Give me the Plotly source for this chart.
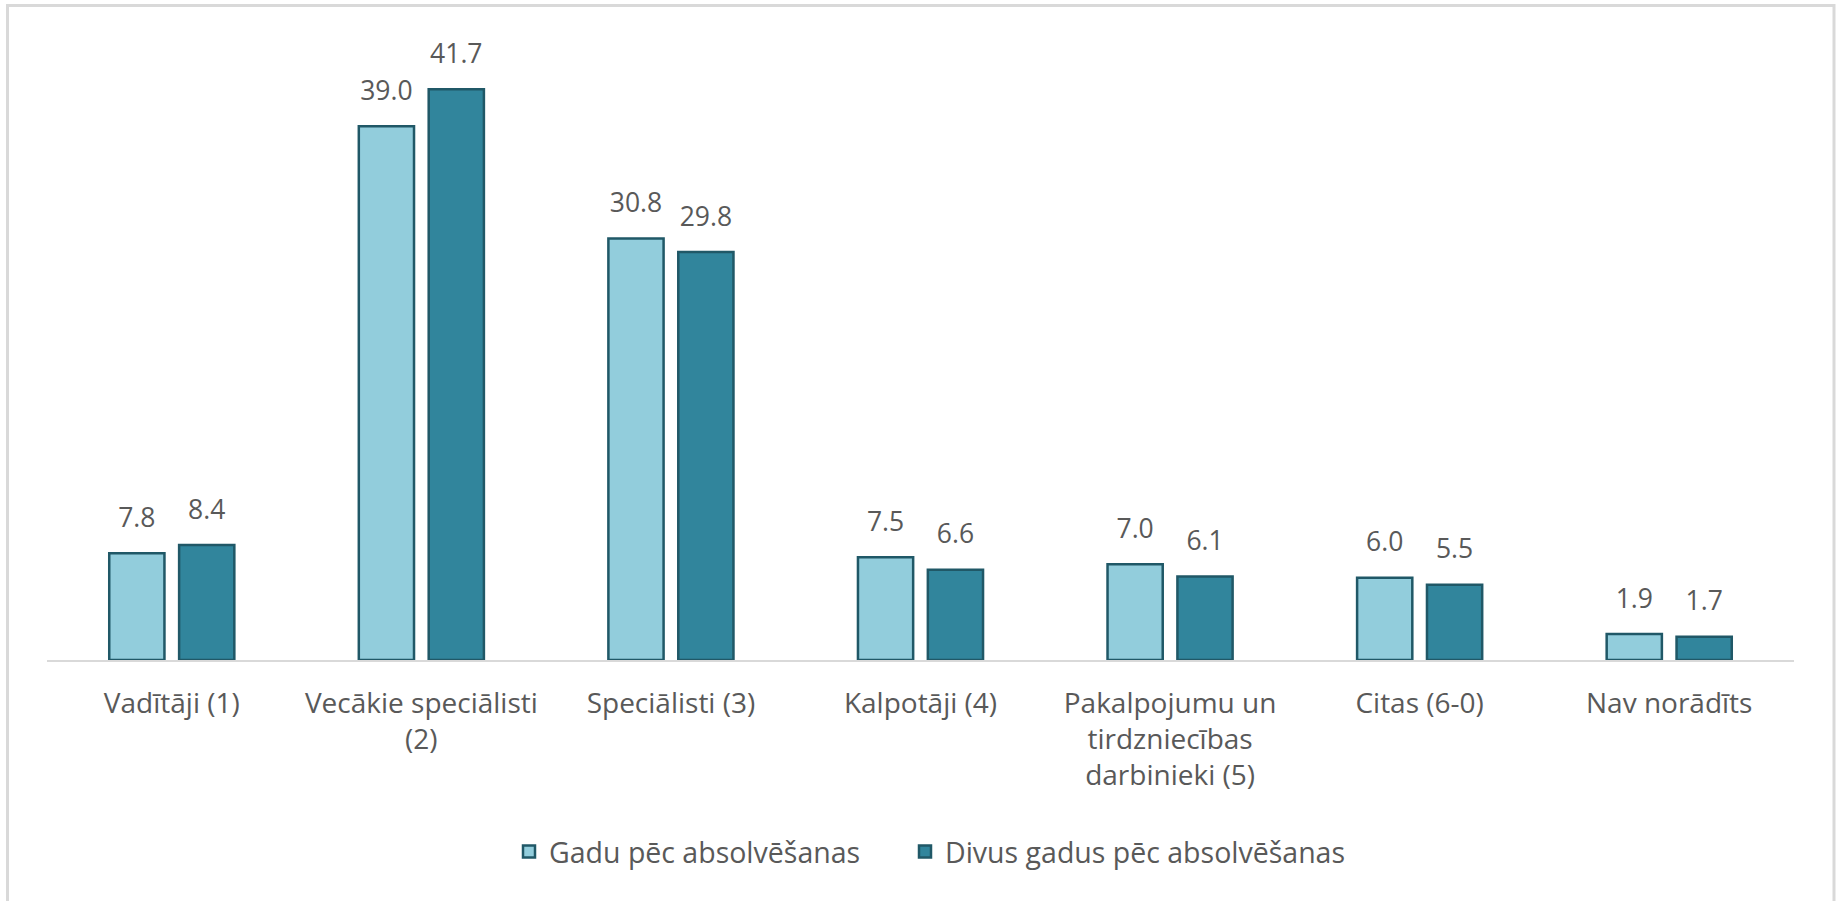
import plotly.graph_objects as go

## Data
categories = [
    "Vadītāji (1)",
    "Vecākie speciālisti<br>(2)",
    "Speciālisti (3)",
    "Kalpotāji (4)",
    "Pakalpojumu un<br>tirdzniecības<br>darbinieki (5)",
    "Citas (6-0)",
    "Nav norādīts",
]
series_names = ["Gadu pēc absolvēšanas", "Divus gadus pēc absolvēšanas"]
year_one = [7.8, 39.0, 30.8, 7.5, 7.0, 6.0, 1.9]
year_two = [8.4, 41.7, 29.8, 6.6, 6.1, 5.5, 1.7]

light = "#92CDDC"
dark = "#31859C"
edge = "#205867"
text_grey = "#595959"
font_family = "Open Sans, Noto Sans, sans-serif"

W, H = 1837, 901
L, R, T, B = 47, 43, 44, 241
plot_h = H - T - B
plot_w = W - L - R

# pixel -> paper coords
def px_x(p):
    return (p - L) / plot_w

def px_y(p):
    return (H - B - p) / plot_h

fig = go.Figure()
legends = ["legend", "legend2"]
for i, (name, vals, col) in enumerate([(series_names[0], year_one, light),
                                       (series_names[1], year_two, dark)]):
    fig.add_trace(go.Bar(
        x=categories, y=vals, name=name, legend=legends[i],
        offsetgroup=str(i), alignmentgroup="a",
        marker=dict(color=col, line=dict(color=edge, width=2.5)),
        hoverinfo="x+y",
    ))
    # data labels, lifted a bit above the bars like in Excel
    fig.add_trace(go.Scatter(
        x=categories, y=vals, mode="markers+text",
        offsetgroup=str(i), alignmentgroup="a",
        text=[f"{v:.1f}" for v in vals], textposition="top center",
        textfont=dict(size=26.5, color=text_grey, family=font_family),
        marker=dict(size=30, opacity=0), showlegend=False, hoverinfo="skip",
        cliponaxis=False,
    ))

# border round the whole chart
fig.add_shape(type="rect", xref="paper", yref="paper",
              x0=px_x(7.5), x1=px_x(1834), y0=px_y(H + 10), y1=px_y(5.5),
              line=dict(color="#D9D9D9", width=3), layer="below")

leg_style = dict(orientation="h", yanchor="middle", xanchor="left", y=px_y(852),
                 font=dict(size=28.5, color=text_grey), itemwidth=30)

fig.update_layout(
    width=W, height=H,
    margin=dict(l=L, r=R, t=T, b=B),
    paper_bgcolor="white", plot_bgcolor="white",
    barmode="group", bargap=0.44, bargroupgap=0.21,
    scattermode="group", scattergap=0.44,
    font=dict(family=font_family, color=text_grey, size=28),
    legend=dict(leg_style, x=px_x(509)),
    legend2=dict(leg_style, x=px_x(905)),
    showlegend=True,
)
fig.update_xaxes(showline=True, linecolor="#D9D9D9", linewidth=2,
                 ticks="", ticklabelstandoff=17, tickfont=dict(size=28, color=text_grey),
                 showgrid=False)
fig.update_yaxes(range=[0, 45], visible=False, showgrid=False)

# the page body has a default 8px margin; drop it so the chart sits at 0,0
fig.write_html("out.html", config={"displayModeBar": False},
               post_script="document.body.style.margin='0';")
